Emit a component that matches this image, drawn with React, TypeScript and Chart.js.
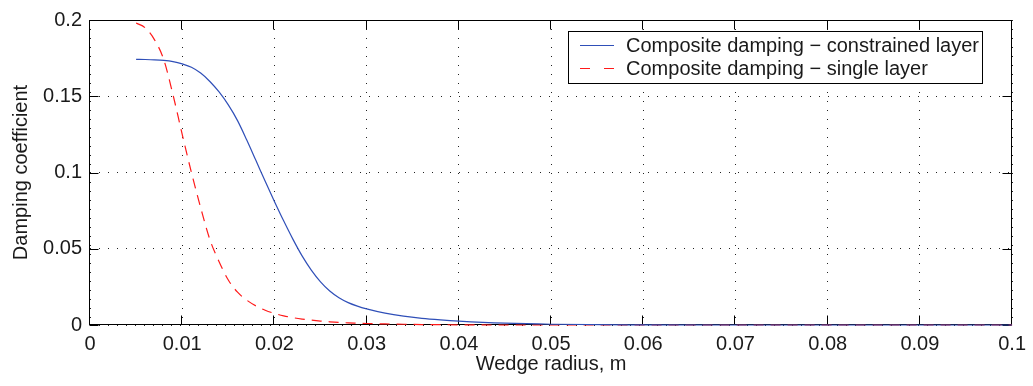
import React, { useEffect, useRef } from 'react';
import { Chart, registerables } from 'chart.js';

Chart.register(...registerables);

// Wedge radius (m)
const radius = [
  0.005, 0.006, 0.007, 0.008, 0.009, 0.010, 0.011, 0.012, 0.013, 0.014,
  0.015, 0.016, 0.017, 0.018, 0.019, 0.020, 0.021, 0.022, 0.023, 0.024,
  0.025, 0.026, 0.027, 0.028, 0.029, 0.030, 0.032, 0.034, 0.036, 0.038,
  0.040, 0.045, 0.050, 0.060, 0.070, 0.080, 0.090, 0.100,
];

// Composite damping - constrained layer
const constrainedLayer = [
  0.1742, 0.1741, 0.1739, 0.1735, 0.1727, 0.1712, 0.1690, 0.1652, 0.1597, 0.1528,
  0.1443, 0.1340, 0.1213, 0.1078, 0.0942, 0.0810, 0.0683, 0.0563, 0.0453, 0.0360,
  0.0283, 0.0223, 0.0179, 0.0147, 0.0124, 0.0106, 0.0078, 0.0058, 0.0044, 0.0034,
  0.0026, 0.0012, 0.0005, 0.0001, 0.0, 0.0, 0.0, 0.0,
];

// Composite damping - single layer
const singleLayer = [
  0.1980, 0.1948, 0.1870, 0.1740, 0.1510, 0.1250, 0.1000, 0.0770, 0.0560, 0.0415,
  0.0295, 0.0215, 0.0163, 0.0125, 0.0097, 0.0076, 0.0060, 0.0048, 0.0039, 0.0032,
  0.0026, 0.0021, 0.0017, 0.0014, 0.0012, 0.0010, 0.0007, 0.0005, 0.0003, 0.0002,
  0.0001, 0.0, 0.0, 0.0, 0.0, 0.0, 0.0, 0.0,
];

const xTickLabels = ['0', '0.01', '0.02', '0.03', '0.04', '0.05', '0.06', '0.07', '0.08', '0.09', '0.1'];
const yTickLabels = ['0', '0.05', '0.1', '0.15', '0.2'];

const seriesLabels = [
  'Composite damping \u2212 constrained layer',
  'Composite damping \u2212 single layer',
];
const xTitle = 'Wedge radius, m';
const yTitle = 'Damping coefficient';

const BLUE = '#2f4fb8';
const RED = '#ff1a1a';
const FONT = "'Liberation Sans', Arial, Helvetica, sans-serif";
const TEXT = '#1a1a1a';

const framePlugin = {
  id: 'frame',
  beforeDatasetsDraw(chart: any) {
    const { ctx, chartArea, scales } = chart;
    const { left, right, top, bottom } = chartArea;
    const L = Math.round(left) - 0.5;
    const R = Math.round(right) - 0.5;
    const T = Math.round(top) + 0.5;
    const B = Math.round(bottom) - 0.5;
    ctx.save();
    ctx.strokeStyle = '#000';
    ctx.lineWidth = 1;
    ctx.setLineDash([]);
    ctx.strokeRect(L, T, R - L, B - T);
    const tl = 9;
    ctx.beginPath();
    scales.x.ticks.forEach((t: any) => {
      const px = Math.round(scales.x.getPixelForValue(t.value)) - 0.5;
      ctx.moveTo(px, B);
      ctx.lineTo(px, B - tl);
      ctx.moveTo(px, T);
      ctx.lineTo(px, T + tl);
    });
    scales.y.ticks.forEach((t: any) => {
      const py = Math.round(scales.y.getPixelForValue(t.value)) + 0.5;
      ctx.moveTo(L, py);
      ctx.lineTo(L + tl, py);
      ctx.moveTo(R, py);
      ctx.lineTo(R - tl, py);
    });
    ctx.stroke();
    ctx.restore();
  },
  afterDraw(chart: any) {
    const { ctx, chartArea } = chart;
    ctx.save();
    ctx.font = `20px ${FONT}`;
    const w = Math.max(...seriesLabels.map((s) => ctx.measureText(s).width));
    const boxRight = Math.round(chartArea.right) - 30;
    const boxTop = Math.round(chartArea.top) + 11;
    const textX = boxRight - w - 3;
    const boxLeft = Math.round(textX - 58);
    const boxH = 52;
    ctx.fillStyle = '#fff';
    ctx.fillRect(boxLeft, boxTop, boxRight - boxLeft, boxH);
    ctx.strokeStyle = '#000';
    ctx.lineWidth = 1;
    ctx.strokeRect(boxLeft + 0.5, boxTop + 0.5, boxRight - boxLeft, boxH);
    const rows = [boxTop + 14, boxTop + 37];
    const colors = [BLUE, RED];
    const dashes = [[], [10, 14]];
    rows.forEach((ry, i) => {
      ctx.strokeStyle = colors[i];
      ctx.lineWidth = 1.2;
      ctx.setLineDash(dashes[i]);
      ctx.beginPath();
      ctx.moveTo(boxLeft + 12, ry + 0.5);
      ctx.lineTo(boxLeft + 46, ry + 0.5);
      ctx.stroke();
      ctx.setLineDash([]);
      ctx.fillStyle = TEXT;
      ctx.textBaseline = 'middle';
      ctx.textAlign = 'left';
      ctx.fillText(seriesLabels[i], textX, ry + 1);
    });
    ctx.restore();
  },
};

export default function App() {
  const canvasRef = useRef<HTMLCanvasElement | null>(null);

  useEffect(() => {
    const canvas = canvasRef.current;
    if (!canvas) return;
    const chart = new Chart(canvas, {
      type: 'line',
      data: {
        datasets: [
          {
            label: seriesLabels[0],
            data: radius.map((r, i) => ({ x: r, y: constrainedLayer[i] })),
            borderColor: BLUE,
            borderWidth: 1.2,
            pointRadius: 0,
            fill: false,
            cubicInterpolationMode: 'monotone',
            clip: false,
          },
          {
            label: seriesLabels[1],
            data: radius.map((r, i) => ({ x: r, y: singleLayer[i] })),
            borderColor: RED,
            borderWidth: 1.2,
            borderDash: [10, 7],
            pointRadius: 0,
            fill: false,
            cubicInterpolationMode: 'monotone',
            clip: false,
          },
        ],
      },
      options: {
        animation: false,
        responsive: false,
        devicePixelRatio: 1,
        layout: { padding: { left: 0, top: 16, right: 17, bottom: 0 } },
        plugins: {
          legend: { display: false },
          tooltip: { enabled: false },
        },
        scales: {
          x: {
            type: 'linear',
            min: 0,
            max: 0.1,
            afterFit: (s: any) => {
              s.height = 61;
            },
            ticks: {
              stepSize: 0.01,
              padding: 7,
              color: TEXT,
              font: { family: FONT, size: 20 },
              maxRotation: 0,
              autoSkip: false,
              callback: (_v: any, i: number) => xTickLabels[i],
            },
            grid: {
              color: '#222',
              lineWidth: 1,
              drawTicks: false,
            },
            border: { display: false, dash: [1, 8] },
            title: {
              display: true,
              text: xTitle,
              color: TEXT,
              font: { family: FONT, size: 20 },
              padding: { top: 0, bottom: 10 },
            },
          },
          y: {
            type: 'linear',
            min: 0,
            max: 0.2,
            afterFit: (s: any) => {
              s.width = 90;
            },
            ticks: {
              stepSize: 0.05,
              padding: 8,
              color: TEXT,
              font: { family: FONT, size: 20 },
              callback: (_v: any, i: number) => yTickLabels[i],
            },
            grid: {
              color: '#222',
              lineWidth: 1,
              drawTicks: false,
            },
            border: { display: false, dash: [1, 8] },
            title: {
              display: true,
              text: yTitle,
              color: TEXT,
              font: { family: FONT, size: 20 },
              padding: { top: 9, bottom: 0 },
            },
          },
        },
      },
      plugins: [framePlugin],
    });
    return () => chart.destroy();
  }, []);

  return (
    <div style={{ position: 'fixed', left: 0, top: 0, width: 1033, height: 386, background: '#fff' }}>
      <canvas ref={canvasRef} width={1033} height={386} style={{ width: 1033, height: 386, display: 'block' }} />
    </div>
  );
}
